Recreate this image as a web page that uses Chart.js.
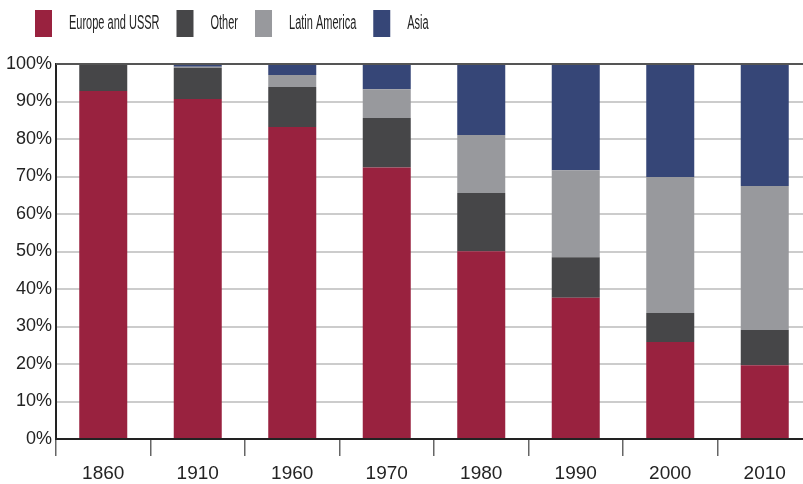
<!DOCTYPE html>
<html>
<head>
<meta charset="utf-8">
<script src="https://cdn.jsdelivr.net/npm/chart.js@4.4.1/dist/chart.umd.min.js"></script>
<style>
  html, body { margin: 0; padding: 0; background: #fff; overflow: hidden; }
  #wrap { position: relative; width: 812px; height: 484px; }
</style>
</head>
<body>
<div id="wrap"><canvas id="c" width="812" height="484"></canvas></div>
<script>
const categories = ['1860', '1910', '1960', '1970', '1980', '1990', '2000', '2010'];
const seriesNames = ['Europe and USSR', 'Other', 'Latin America', 'Asia'];
const europe = [92.8, 90.7, 83.2, 72.4, 50.1, 37.7, 25.9, 19.7];
const other  = [7.2, 8.3, 10.7, 13.2, 15.5, 10.8, 7.7, 9.4];
const latin  = [0, 0.3, 3.2, 7.7, 15.5, 23.2, 36.3, 38.4];
const asia   = [0, 0.7, 2.9, 6.7, 18.9, 28.3, 30.1, 32.5];
const yTicks = [0, 10, 20, 30, 40, 50, 60, 70, 80, 90, 100];

const colors = ['#99223f', '#464648', '#98999d', '#364677'];
const TEXT = '#232323';
const FONT = '"Liberation Sans", Arial, sans-serif';

const legendPlugin = {
  id: 'customLegend',
  afterDraw(chart) {
    const ctx = chart.ctx;
    ctx.save();
    let x = 35;
    const boxW = 17, boxH = 27, boxY = 10, gap = 17, sx = 0.55;
    ctx.font = '20px ' + FONT;
    ctx.textBaseline = 'middle';
    chart.data.datasets.forEach(ds => {
      ctx.fillStyle = ds.backgroundColor;
      ctx.fillRect(x, boxY, boxW, boxH);
      x += boxW + gap;
      ctx.fillStyle = TEXT;
      const w = ctx.measureText(ds.label).width * sx;
      ctx.save();
      ctx.translate(x, 23);
      ctx.scale(sx, 1);
      ctx.fillText(ds.label, 0, 0);
      ctx.restore();
      x += w + gap;
    });
    ctx.restore();
  }
};

const topLinePlugin = {
  id: 'topLine',
  afterDatasetsDraw(chart) {
    const ctx = chart.ctx, y = chart.scales.y.getPixelForValue(100);
    ctx.save();
    ctx.strokeStyle = '#555';
    ctx.lineWidth = 2;
    ctx.beginPath();
    ctx.moveTo(chart.chartArea.left, y);
    ctx.lineTo(chart.chartArea.right, y);
    ctx.stroke();
    ctx.restore();
  }
};

new Chart(document.getElementById('c'), {
  type: 'bar',
  data: {
    labels: categories,
    datasets: [europe, other, latin, asia].map((d, i) => ({
      label: seriesNames[i],
      data: d,
      backgroundColor: colors[i],
      borderWidth: 0,
      barPercentage: 1,
      categoryPercentage: 0.508
    }))
  },
  options: {
    responsive: false,
    animation: false,
    devicePixelRatio: 1,
    layout: { padding: { top: 64, left: 0, right: 0, bottom: 0 } },
    plugins: { legend: { display: false }, tooltip: { enabled: false } },
    scales: {
      x: {
        stacked: true,
        offset: true,
        grid: { display: true, drawOnChartArea: false, drawTicks: true, tickLength: 17, color: '#666', lineWidth: 1.5, offset: true },
        border: { display: true, color: '#222', width: 2 },
        ticks: { color: TEXT, padding: 6, font: { family: FONT, size: 19 } },
        afterFit(scale) { scale.height = 45; }
      },
      y: {
        stacked: true,
        min: 0, max: 100,
        afterBuildTicks(scale) { scale.ticks = yTicks.map(v => ({ value: v })); },
        grid: { color: '#cccccc', lineWidth: 2, drawTicks: false },
        border: { display: true, color: '#222', width: 2 },
        ticks: { color: TEXT, padding: 4, callback: v => v + '%', font: { family: FONT, size: 18 } },
        afterFit(scale) { scale.width = 56; }
      }
    }
  },
  plugins: [legendPlugin, topLinePlugin]
});
</script>
</body>
</html>
